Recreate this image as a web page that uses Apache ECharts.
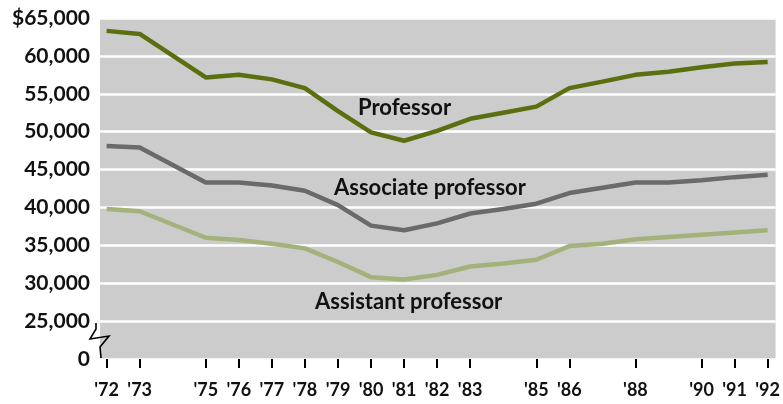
<!DOCTYPE html>
<html>
<head>
<meta charset="utf-8">
<title>Faculty salaries</title>
<script src="https://cdn.jsdelivr.net/npm/echarts@6/dist/echarts.min.js"></script>
<style>
  html, body { margin: 0; padding: 0; background: #fff; }
  #chart { width: 783px; height: 404px; }
</style>
</head>
<body>
<div id="chart"></div>
<script>
// 数据
var years = [72, 73, 75, 76, 77, 78, 79, 80, 81, 82, 83, 84, 85, 86, 87, 88, 89, 90, 91, 92];
var professor = [63300, 62900, 57150, 57500, 56900, 55750, 52700, 49900, 48800, 50100, 51700, 52500, 53300, 55750, 56600, 57500, 57900, 58500, 59000, 59200];
var associate = [48100, 47900, 43300, 43300, 42900, 42200, 40300, 37600, 37000, 37900, 39200, 39800, 40500, 41900, 42600, 43300, 43300, 43600, 44000, 44300];
var assistant = [39800, 39500, 36000, 35700, 35200, 34600, 32800, 30800, 30500, 31100, 32200, 32600, 33100, 34900, 35200, 35800, 36100, 36400, 36700, 37000];
var tickYears = [72, 73, 75, 76, 77, 78, 79, 80, 81, 82, 83, 85, 86, 88, 90, 91, 92];

var pairs = function (vals) {
  return years.map(function (y, i) { return [y, vals[i]]; });
};

var font = 'Lato';

var renderLineChart = function () {
  var series = [
    { name: 'Professor', data: pairs(professor), color: '#5a6f10' },
    { name: 'Associate professor', data: pairs(associate), color: '#6a6a6a' },
    { name: 'Assistant professor', data: pairs(assistant), color: '#a3b27b' }
  ].map(function (s) {
    return {
      name: s.name,
      type: 'line',
      data: s.data,
      symbol: 'none',
      lineStyle: { color: s.color, width: 4.5 },
      animation: false
    };
  });

  var label = function (text, x, y) {
    return {
      type: 'text', x: x, y: y,
      style: { text: text, font: 'bold 22px ' + font, fill: '#111', verticalAlign: 'middle' }
    };
  };

  var option = {
    backgroundColor: '#fff',
    animation: false,
    grid: {
      left: 100, right: 6, top: 18, bottom: 45,
      show: true, backgroundColor: '#cccccc', borderWidth: 0
    },
    xAxis: {
      type: 'value',
      min: 71.8,
      max: 92.24,
      axisLine: { show: false },
      splitLine: { show: false },
      axisTick: {
        show: true,
        customValues: tickYears,
        length: 9,
        lineStyle: { color: '#000', width: 2 }
      },
      axisLabel: {
        customValues: tickYears,
        margin: 22,
        fontFamily: font,
        fontWeight: 'bold',
        fontSize: 18,
        color: '#111',
        formatter: function (v) { return "'" + v; }
      }
    },
    yAxis: {
      type: 'value',
      min: 20000,
      max: 65000,
      interval: 5000,
      axisLine: { show: false },
      axisTick: { show: false },
      splitLine: { show: true, lineStyle: { color: '#fff', width: 2.5 } },
      axisLabel: {
        margin: 10,
        fontFamily: font,
        fontWeight: 'bold',
        fontSize: 21,
        color: '#111',
        formatter: function (v) {
          if (v === 20000) return '0';
          var s = v.toLocaleString('en-US');
          return v === 65000 ? '$' + s : s;
        }
      }
    },
    series: series,
    graphic: [
      label('Professor', 358, 108),
      label('Associate professor', 334, 188),
      label('Assistant professor', 315, 302),
      // 断轴符号
      {
        type: 'polyline',
        shape: { points: [[96, 323], [96, 329], [90, 339], [109, 336], [100, 347], [101, 358]] },
        style: { stroke: '#000', lineWidth: 1.6, fill: null },
        z: 100
      }
    ]
  };

  var myChart = echarts.init(document.getElementById('chart'));
  myChart.setOption(option);
};

renderLineChart();
</script>
</body>
</html>
